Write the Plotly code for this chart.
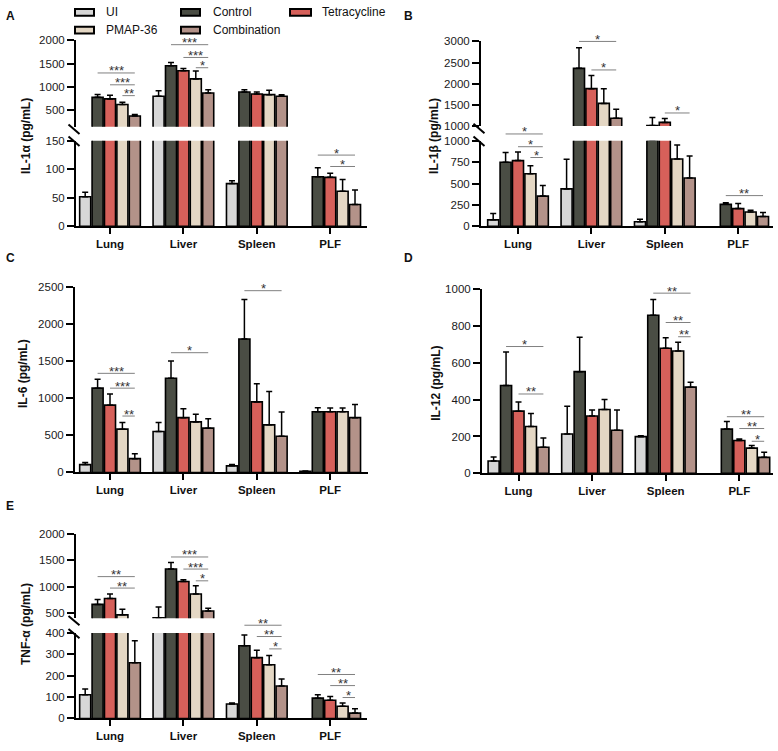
import plotly.graph_objects as go

W, H = 778, 751
FONT = "Liberation Sans, Arial, Helvetica, sans-serif"

categories = ["Lung", "Liver", "Spleen", "PLF"]
series = ["UI", "Control", "Tetracycline", "PMAP-36", "Combination"]
colors = ["#d7d7d7", "#4a4d44", "#d6605a", "#e4d7c4", "#b39289"]

# ---- Panel A: IL-1α (pg/mL) ----
il1a_means = [[52, 802, 75, None],
              [780, 1456, 895, 87],
              [747, 1350, 852, 86],
              [627, 1175, 838, 61.5],
              [380, 873, 802, 38.5]]
il1a_sd = [[8, 118, 5, None],
           [60, 71, 48, 16],
           [76, 50, 43, 7],
           [48, 170, 92, 20.5],
           [30, 70, 36, 25.5]]
il1a_sig = [(0, 1, 4, 1303, "***", "hi"), (0, 2, 4, 1049, "***", "hi"), (0, 3, 4, 817, "**", "hi"),
            (1, 1, 4, 1909, "***", "hi"), (1, 2, 4, 1635, "***", "hi"), (1, 3, 4, 1415, "*", "hi"),
            (3, 1, 4, 125, "*", "lo"), (3, 2, 4, 105, "*", "lo")]

# ---- Panel B: IL-1β (pg/mL) ----
il1b_means = [[77, 438, 54, None],
              [750, 2364, 1010, 258],
              [769, 1884, 1086, 208],
              [615, 1535, 788, 169],
              [354, 1186, 565, 115]]
il1b_sd = [[73, 347, 31, None],
           [112, 489, 192, 19],
           [100, 310, 92, 61],
           [93, 349, 162, 19],
           [123, 209, 258, 47]]
il1b_sig = [(0, 1, 4, 1080, "*", "lo"), (0, 2, 4, 931, "*", "lo"), (0, 3, 4, 805, "*", "lo"),
            (1, 1, 4, 3000, "*", "hi"), (1, 2, 4, 2326, "*", "hi"),
            (2, 2, 4, 1309, "*", "hi"), (3, 1, 4, 360, "**", "lo")]

# ---- Panel C: IL-6 (pg/mL) ----
il6_means = [[106, 554, 89, 15],
             [1139, 1272, 1804, 820],
             [909, 740, 953, 820],
             [585, 683, 643, 820],
             [186, 598, 488, 740]]
il6_sd = [[27, 120, 17, 3],
          [120, 235, 532, 53],
          [150, 120, 244, 49],
          [89, 102, 452, 49],
          [67, 129, 328, 178]]
il6_sig = [(0, 1, 4, 1339, "***", "lo"), (0, 2, 4, 1139, "***", "lo"), (0, 3, 4, 762, "**", "lo"),
           (1, 1, 4, 1618, "*", "lo"), (2, 1, 4, 2456, "*", "lo")]

# ---- Panel D: IL-12 (pg/mL) ----
il12_means = [[67, 213, 199, None],
              [476, 551, 856, 240],
              [337, 311, 678, 178],
              [254, 346, 663, 137],
              [142, 234, 467, 87]]
il12_sd = [[22, 151, 5, None],
           [181, 186, 85, 41],
           [50, 32, 56, 8],
           [71, 54, 47, 14],
           [50, 109, 27, 28]]
il12_sig = [(0, 1, 4, 687, "*", "lo"), (0, 2, 4, 430, "**", "lo"),
            (2, 1, 4, 976, "**", "lo"), (2, 2, 4, 817, "**", "lo"), (2, 3, 4, 740, "**", "lo"),
            (3, 1, 4, 307, "**", "lo"), (3, 2, 4, 243, "**", "lo"), (3, 3, 4, 174, "*", "lo")]

# ---- Panel E: TNF-α (pg/mL) ----
tnfa_means = [[111, 405, 68, None],
              [662, 1335, 341, 95],
              [774, 1098, 285, 85],
              [463, 861, 252, 57],
              [261, 537, 152, 25]]
tnfa_sd = [[27, 207, 4, None],
           [94, 124, 50, 16],
           [87, 31, 35, 18],
           [106, 156, 43, 15],
           [103, 50, 33, 20]]
tnfa_sig = [(0, 1, 4, 1191, "**", "hi"), (0, 2, 4, 973, "**", "hi"),
            (1, 1, 4, 1565, "***", "hi"), (1, 2, 4, 1335, "***", "hi"), (1, 3, 4, 1111, "*", "hi"),
            (2, 1, 4, 437, "**", "lo"), (2, 2, 4, 384, "**", "lo"), (2, 3, 4, 326, "*", "lo"),
            (3, 1, 4, 206, "**", "lo"), (3, 2, 4, 154, "**", "lo"), (3, 3, 4, 98, "*", "lo")]

# ---------------- layout configuration (pixel geometry) ----------------
BARGAP = 0.155
BARGROUPGAP = 0.11

panels = [
    dict(letter="A", letter_xy=(4, 10), title="IL-1α (pg/mL)", title_xy=(26, 132),
         means=il1a_means, sd=il1a_sd, sig=il1a_sig,
         xdom=(76, 367), lung=110, spacing=73.4,
         lo=dict(px=(224, 137), r=(0, 150), ticks=[0, 50, 100, 150]),
         hi=dict(px=(122.7, 35), r=(150, 2000), ticks=[500, 1000, 1500, 2000])),
    dict(letter="B", letter_xy=(402, 10), title="IL-1β (pg/mL)", title_xy=(434, 132),
         means=il1b_means, sd=il1b_sd, sig=il1b_sig,
         xdom=(481, 773), lung=518, spacing=73.4,
         lo=dict(px=(224, 137), r=(0, 1000), ticks=[0, 250, 500, 750, 1000]),
         hi=dict(px=(122, 36), r=(1000, 3000), ticks=[1000, 1500, 2000, 2500, 3000])),
    dict(letter="C", letter_xy=(4, 256), title="IL-6 (pg/mL)", title_xy=(23, 374),
         means=il6_means, sd=il6_sd, sig=il6_sig,
         xdom=(75, 368), lung=110, spacing=73.4,
         lo=dict(px=(474, 286), r=(0, 2500), ticks=[0, 500, 1000, 1500, 2000, 2500]),
         hi=None),
    dict(letter="D", letter_xy=(402, 256), title="IL-12 (pg/mL)", title_xy=(436, 384),
         means=il12_means, sd=il12_sd, sig=il12_sig,
         xdom=(482, 773), lung=518.5, spacing=73.6,
         lo=dict(px=(475, 287.3), r=(0, 1000), ticks=[0, 200, 400, 600, 800, 1000]),
         hi=None),
    dict(letter="E", letter_xy=(4, 508), title="TNF-α (pg/mL)", title_xy=(26, 628),
         means=tnfa_means, sd=tnfa_sd, sig=tnfa_sig,
         xdom=(76, 367), lung=110, spacing=73.4,
         lo=dict(px=(724, 637.3), r=(0, 400), ticks=[0, 100, 200, 300, 400]),
         hi=dict(px=(622.1, 536.7), r=(400, 2000), ticks=[500, 1000, 1500, 2000])),
]


def px_x(px):
    return px / W


def px_y(py):
    return 1 - py / H


fig = go.Figure()
layout = {}
shapes = []
annotations = []
axis_n = [0]

tick_font = dict(family=FONT, size=11.5, color="#1a1a1a")


def new_axes(p, seg, is_lower):
    axis_n[0] += 1
    n = axis_n[0]
    xk = "xaxis" if n == 1 else f"xaxis{n}"
    yk = "yaxis" if n == 1 else f"yaxis{n}"
    xr = "x" if n == 1 else f"x{n}"
    yr = "y" if n == 1 else f"y{n}"
    d0, d1 = p["xdom"]
    xr0 = -(p["lung"] - d0) / p["spacing"]
    xr1 = 3 + (d1 - (p["lung"] + 3 * p["spacing"])) / p["spacing"]
    p["xrange"] = (xr0, xr1)
    xa = dict(domain=[px_x(d0), px_x(d1)], range=[xr0, xr1], type="category",
              categoryorder="array", categoryarray=categories, anchor=yr,
              showgrid=False, zeroline=False, fixedrange=True)
    if is_lower:
        xa.update(showline=True, linewidth=2, linecolor="black", ticks="outside",
                  ticklen=6, tickwidth=2, tickcolor="black",
                  tickmode="array", tickvals=categories,
                  ticktext=[f"<b>{c}</b>" for c in categories],
                  tickfont=dict(family=FONT, size=11.5, color="#111"))
    else:
        xa.update(showline=False, ticks="", showticklabels=False)
    ya = dict(domain=[px_y(seg["px"][0]), px_y(seg["px"][1])], range=list(seg["r"]),
              anchor=xr, showgrid=False, zeroline=False, showline=True, linewidth=2,
              linecolor="black", ticks="outside", ticklen=7, tickwidth=1.8,
              tickcolor="black", tickmode="array", tickvals=seg["ticks"],
              tickfont=tick_font, fixedrange=True)
    layout[xk] = xa
    layout[yk] = ya
    return xr, yr


def add_bars(p, xr, yr, seg, upper):
    r0 = seg["r"][0]
    for s in range(len(series)):
        m = list(p["means"][s])
        e = [v if v is not None else 0 for v in p["sd"][s]]
        if upper:
            # points lying entirely below the upper segment are not drawn there
            m = [None if (v is None or v + d < r0) else v for v, d in zip(m, e)]
        fig.add_trace(go.Bar(
            x=categories, y=m, name=series[s], showlegend=False,
            xaxis=xr, yaxis=yr,
            marker=dict(color=colors[s], line=dict(color="black", width=1.6)),
            error_y=dict(type="data", symmetric=False, array=e, arrayminus=[0] * len(e),
                         color="black", thickness=1.5, width=3),
            hoverinfo="skip"))


def val_to_px(seg, v):
    b, t = seg["px"]
    r0, r1 = seg["r"]
    return b + (v - r0) / (r1 - r0) * (t - b)


def xval_to_px(p, xv):
    d0, d1 = p["xdom"]
    r0, r1 = p["xrange"]
    return d0 + (xv - r0) / (r1 - r0) * (d1 - d0)


slot = (1 - BARGAP) / len(series)


def bar_center(c, j):
    return c - (1 - BARGAP) / 2 + slot * (j + 0.5)


for p in panels:
    xr, yr = new_axes(p, p["lo"], True)
    add_bars(p, xr, yr, p["lo"], False)
    if p["hi"] is not None:
        xr2, yr2 = new_axes(p, p["hi"], False)
        add_bars(p, xr2, yr2, p["hi"], True)
        # axis-break marks
        ax = p["xdom"][0]
        for cy in (p["hi"]["px"][0] + 2.5, p["lo"]["px"][1] + 0.5):
            shapes.append(dict(type="line", xref="paper", yref="paper",
                               x0=px_x(ax - 7.5), y0=px_y(cy - 4.8),
                               x1=px_x(ax + 3.5), y1=px_y(cy + 4.8),
                               line=dict(color="black", width=2)))
    # significance brackets
    for (c, i, j, lvl, lab, segname) in p["sig"]:
        seg = p["hi"] if segname == "hi" else p["lo"]
        ypx = val_to_px(seg, lvl)
        x0 = xval_to_px(p, bar_center(c, i))
        x1 = xval_to_px(p, bar_center(c, j))
        shapes.append(dict(type="line", xref="paper", yref="paper",
                           x0=px_x(x0), x1=px_x(x1), y0=px_y(ypx), y1=px_y(ypx),
                           line=dict(color="#808080", width=1)))
        annotations.append(dict(xref="paper", yref="paper", x=px_x((x0 + x1) / 2),
                                y=px_y(ypx), text=lab, showarrow=False,
                                xanchor="center", yanchor="middle", yshift=2,
                                font=dict(family=FONT, size=13, color="#333")))
    # panel letter
    lx, ly = p["letter_xy"]
    annotations.append(dict(xref="paper", yref="paper", x=px_x(lx), y=px_y(ly),
                            text=f"<b>{p['letter']}</b>", showarrow=False,
                            xanchor="left", yanchor="middle",
                            font=dict(family=FONT, size=12, color="#111")))
    # y title
    tx, ty = p["title_xy"]
    annotations.append(dict(xref="paper", yref="paper", x=px_x(tx), y=px_y(ty),
                            text=f"<b>{p['title']}</b>", showarrow=False, textangle=-90,
                            xanchor="center", yanchor="middle",
                            font=dict(family=FONT, size=12, color="#111")))

# ---- custom legend (two rows) ----
legend_pos = [(75, 94, 104, 6.5), (181, 200, 211, 6.5), (290, 311, 320, 6.5),
              (75, 94, 104, 24.5), (181, 200, 211, 24.5)]
for s, (bx0, bx1, tx, cy) in enumerate(legend_pos):
    shapes.append(dict(type="rect", xref="paper", yref="paper",
                       x0=px_x(bx0), x1=px_x(bx1), y0=px_y(cy + 3.5), y1=px_y(cy - 3.5),
                       fillcolor=colors[s], line=dict(color="black", width=2)))
    annotations.append(dict(xref="paper", yref="paper", x=px_x(tx), y=px_y(cy),
                            text=series[s], showarrow=False, xanchor="left",
                            yanchor="middle",
                            font=dict(family=FONT, size=12, color="#111")))

fig.update_layout(
    width=W, height=H, margin=dict(l=0, r=0, t=0, b=0),
    paper_bgcolor="white", plot_bgcolor="rgba(0,0,0,0)",
    barmode="group", bargap=BARGAP, bargroupgap=BARGROUPGAP,
    showlegend=False, shapes=shapes, annotations=annotations,
    font=dict(family=FONT),
    **layout)

fig.write_html("out.html", config={"displayModeBar": False},
               post_script="document.body.style.margin='0';document.body.style.overflow='hidden';")
